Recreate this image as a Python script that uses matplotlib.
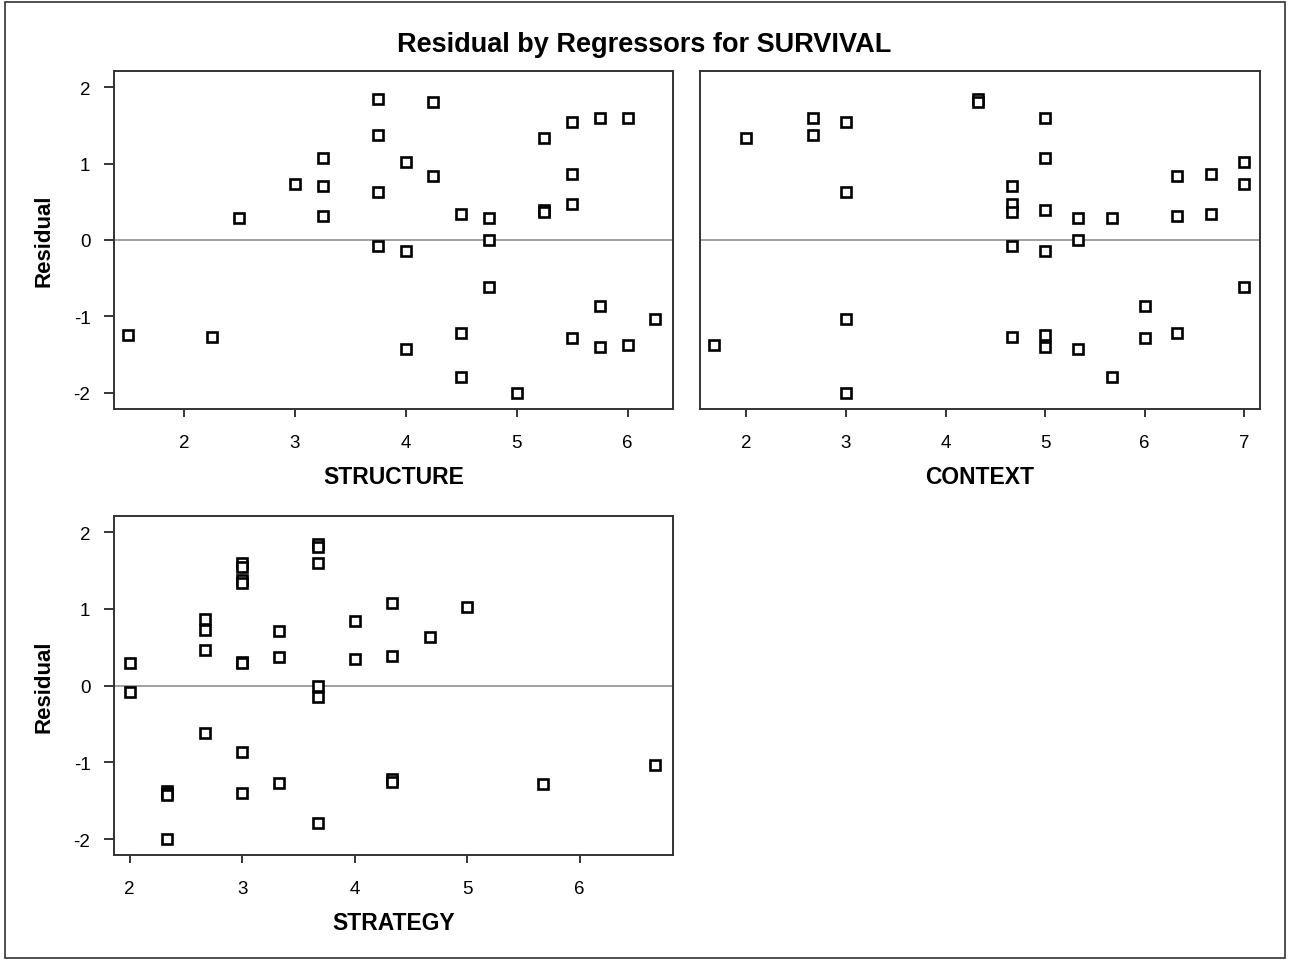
import matplotlib
matplotlib.use("Agg")
import matplotlib.pyplot as plt
from matplotlib.patches import Rectangle

plt.rcParams["font.family"] = ["Liberation Sans", "DejaVu Sans"]
plt.rcParams["axes.unicode_minus"] = False

# residuals vs each regressor
structure_x = [1.5, 2.25, 2.5, 3, 3.25, 3.25, 3.25, 3.75, 3.75, 3.75, 3.75, 4, 4, 4,
               4.25, 4.25, 4.5, 4.5, 4.5, 4.75, 4.75, 4.75, 5, 5.25, 5.25, 5.25,
               5.5, 5.5, 5.5, 5.5, 5.75, 5.75, 5.75, 6, 6, 6.25]
structure_res = [-1.25, -1.27, 0.29, 0.73, 1.07, 0.71, 0.31, 1.84, 1.37, 0.63, -0.08, 1.02, -0.15, -1.43,
                 1.81, 0.84, 0.34, -1.22, -1.79, 0.29, 0.0, -0.62, -2.0, 1.34, 0.39, 0.37,
                 1.55, 0.87, 0.47, -1.28, 1.6, -0.86, -1.4, 1.6, -1.37, -1.03]

context_x = [1.67, 2, 2.67, 2.67, 3, 3, 3, 3, 4.33, 4.33,
             4.67, 4.67, 4.67, 4.67, 4.67, 5, 5, 5, 5, 5, 5,
             5.33, 5.33, 5.33, 5.67, 5.67, 6, 6, 6.33, 6.33, 6.33,
             6.67, 6.67, 7, 7, 7]
context_res = [-1.37, 1.34, 1.6, 1.37, 1.55, 0.63, -1.03, -2.0, 1.84, 1.81,
               0.71, 0.47, 0.37, -0.08, -1.27, 1.6, 1.07, 0.39, -0.15, -1.25, -1.4,
               0.29, 0.0, -1.43, 0.29, -1.79, -0.86, -1.28, 0.84, 0.31, -1.22,
               0.87, 0.34, 1.02, 0.73, -0.62]

strategy_x = [2, 2, 2.33, 2.33, 2.33, 2.33, 2.67, 2.67, 2.67, 2.67,
              3, 3, 3, 3, 3, 3, 3, 3, 3.33, 3.33, 3.33,
              3.67, 3.67, 3.67, 3.67, 3.67, 3.67, 4, 4,
              4.33, 4.33, 4.33, 4.33, 4.67, 5, 5.67, 6.67]
strategy_res = [0.29, -0.08, -1.37, -1.4, -1.43, -2.0, 0.87, 0.73, 0.47, -0.62,
                1.6, 1.55, 1.37, 1.34, 0.31, 0.29, -0.86, -1.4, 0.71, 0.37, -1.27,
                1.84, 1.81, 1.6, 0.0, -0.15, -1.79, 0.84, 0.34,
                1.07, 0.39, -1.22, -1.25, 0.63, 1.02, -1.28, -1.03]

fig = plt.figure(figsize=(12.91, 9.62), dpi=100)
fig.patches.append(Rectangle((0.004, 0.003), 0.991, 0.994, transform=fig.transFigure,
                             fill=False, edgecolor="#333333", linewidth=1.2))

fig.text(0.499, 0.953, "Residual by Regressors for SURVIVAL", ha="center", va="center",
         fontsize=19.5, fontweight="bold")

panels = [
    ([0.0883, 0.574, 0.433, 0.351], structure_x, structure_res, "STRUCTURE", (1.37, 6.41), [2, 3, 4, 5, 6]),
    ([0.542, 0.574, 0.434, 0.351], context_x, context_res, "CONTEXT", (1.53, 7.16), [2, 3, 4, 5, 6, 7]),
    ([0.0883, 0.110, 0.433, 0.3526], strategy_x, strategy_res, "STRATEGY", (1.86, 6.83), [2, 3, 4, 5, 6]),
]

for i, (rect, xs, ys, name, xlim, xticks) in enumerate(panels):
    ax = fig.add_axes(rect)
    ax.axhline(0, color="#999999", linewidth=1.3, zorder=1)
    ax.plot(xs, ys, linestyle="none", marker="s", markersize=6.5, markerfacecolor="white",
            markeredgecolor="black", markeredgewidth=1.9, zorder=3)
    ax.set_xlim(*xlim)
    ax.set_ylim(-2.21, 2.21)
    ax.set_xticks(xticks)
    ax.tick_params(axis="x", direction="out", length=6, width=1.1, labelsize=13.5, pad=12)
    if i == 1:
        ax.set_yticks([])
    else:
        ax.set_yticks([-2, -1, 0, 1, 2])
        ax.tick_params(axis="y", direction="out", length=7, width=1.1, labelsize=13.5, pad=10)
        ax.set_ylabel("Residual", fontsize=16, fontweight="bold", labelpad=14)
    for s in ax.spines.values():
        s.set_linewidth(1.4)
        s.set_color("#333333")
    ax.set_xlabel(name, fontsize=16.5, fontweight="bold", labelpad=10)

fig.savefig("out.png", dpi=100)
